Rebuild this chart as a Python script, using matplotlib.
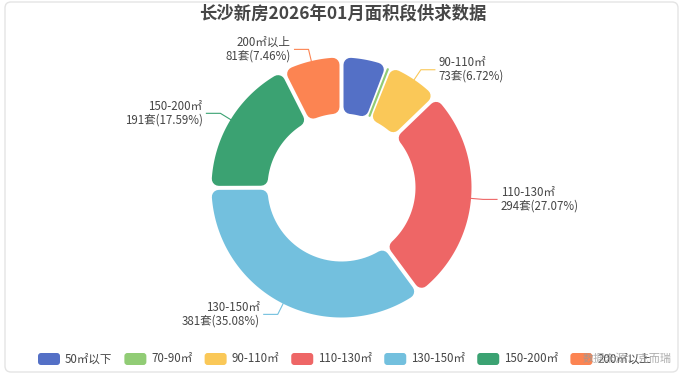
import numpy as np
import matplotlib.pyplot as plt
from matplotlib.patches import Polygon, FancyBboxPatch

plt.rcParams['font.family'] = ['Noto Sans CJK SC', 'DejaVu Sans']

title = '长沙新房2026年01月面积段供求数据'
categories = ['50㎡以下', '70-90㎡', '90-110㎡', '110-130㎡', '130-150㎡', '150-200㎡', '200㎡以上']
units = [63, 3, 73, 294, 381, 191, 81]
colors = ['#5470c6', '#91cc75', '#fac858', '#ee6666', '#73c0de', '#3ba272', '#fc8452']
show_label = [False, False, True, True, True, True, True]
source = '数据来源：克而瑞'

W, H = 686, 378
PT = 0.72  # points per pixel at dpi 100
fig = plt.figure(figsize=(W / 100, H / 100), dpi=100)
ax = fig.add_axes([0, 0, 1, 1])
ax.set_xlim(0, W)
ax.set_ylim(0, H)
ax.axis('off')

# card frame
ax.add_patch(FancyBboxPatch((5, 6), 673, 370, boxstyle='round,pad=0,rounding_size=6',
                            fc='white', ec='#e4e4e4', lw=1.0, zorder=0))

cx, cy = 341.5, H - 187.5
r_out, r_in = 130, 74
gap, rad = 4, 7


def ring_piece(a1, a2):
    s = gap / 2 + rad
    ro, ri = r_out - rad, r_in + rad
    b1o, b2o = a1 + np.arcsin(s / ro), a2 - np.arcsin(s / ro)
    b1i, b2i = a1 + np.arcsin(s / ri), a2 - np.arcsin(s / ri)
    if b2i <= b1i:
        return None
    outer = np.linspace(b1o, b2o, 80)
    inner = np.linspace(b2i, b1i, 40)
    return np.r_[np.c_[cx + ro * np.cos(outer), cy + ro * np.sin(outer)],
                 np.c_[cx + ri * np.cos(inner), cy + ri * np.sin(inner)]]


total = sum(units)
cum = np.r_[0, np.cumsum(units)] / total
for i, (cat, u, col) in enumerate(zip(categories, units, colors)):
    a_hi = np.radians(90 - cum[i] * 360)
    a_lo = np.radians(90 - cum[i + 1] * 360)
    pts = ring_piece(a_lo, a_hi)
    if pts is None:
        m = (a_lo + a_hi) / 2
        ax.plot([cx + (r_in + 3) * np.cos(m), cx + (r_out - 3) * np.cos(m)],
                [cy + (r_in + 3) * np.sin(m), cy + (r_out - 3) * np.sin(m)],
                color=col, lw=2.2 * PT, solid_capstyle='round', zorder=2)
    else:
        ax.add_patch(Polygon(pts, closed=True, fc=col, ec=col, lw=2 * rad * PT,
                             joinstyle='round', zorder=2))
    if not show_label[i]:
        continue
    m = (a_lo + a_hi) / 2
    c, s = np.cos(m), np.sin(m)
    sign = 1 if c >= 0 else -1
    p0 = (cx + r_out * c, cy + r_out * s)
    p1 = (cx + (r_out + 12) * c, cy + (r_out + 12) * s)
    p2 = (p1[0] + sign * 14, p1[1])
    ax.plot([p0[0], p1[0], p2[0]], [p0[1], p1[1], p2[1]], color=col, lw=0.8, zorder=1)
    ax.text(p2[0] + sign * 4, p2[1], f'{cat}\n{u}套({u / total * 100:.2f}%)',
            ha='left' if sign > 0 else 'right', va='center',
            multialignment='left' if sign > 0 else 'right',
            fontsize=8.3, color='#464646', linespacing=1.05, zorder=3)

fig.text(0.5, 1 - 14 / H, title, ha='center', va='center', fontsize=12.5,
         fontweight='bold', color='#464646')

# legend along the bottom
fig.canvas.draw()
renderer = fig.canvas.get_renderer()
x = 38
ly = H - 359
for cat, col in zip(categories, colors):
    ax.add_patch(FancyBboxPatch((x, ly - 6), 22, 12, boxstyle='round,pad=0,rounding_size=3',
                                fc=col, ec='none', zorder=3))
    t = ax.text(x + 27, ly, cat, ha='left', va='center', fontsize=8.3,
                color='#464646', zorder=4)
    bb = t.get_window_extent(renderer)
    x = bb.x1 + 12

ax.text(672, ly, source, ha='right', va='center', fontsize=8, color='#999999',
        alpha=0.8, zorder=5)

fig.savefig('out.png', dpi=100)
